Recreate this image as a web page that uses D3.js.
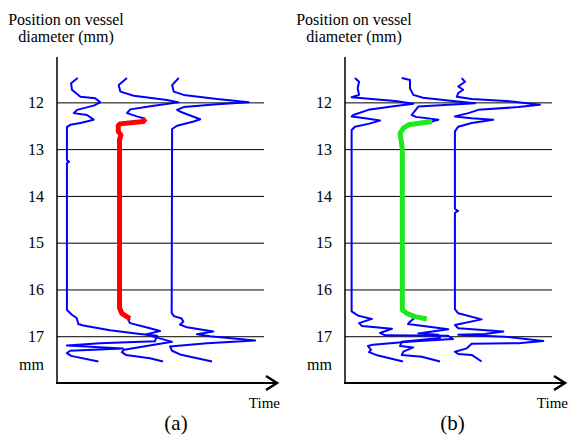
<!DOCTYPE html>
<html>
<head>
<meta charset="utf-8">
<script src="https://cdn.jsdelivr.net/npm/d3@7"></script>
<style>
  body { margin: 0; background: #fff; }
  text { font-family: "Liberation Serif", "Times New Roman", serif; fill: #000; }
</style>
</head>
<body>
<div id="chart"></div>
<script>
// tick labels / text
var yTicks = [12, 13, 14, 15, 16, 17];
var panelLabels = ["(a)", "(b)"];

// traces: [time, position mm]
var a1 = [[10.0,11.48],[6.8,11.59],[7.2,11.73],[11.3,11.88],[18.5,11.91],[20.9,12.00],[17.7,12.07],[9.7,12.16],[8.1,12.23],[14.5,12.27],[17.7,12.37],[11.3,12.44],[6.4,12.48],[4.8,12.53],[4.8,13.23],[5.8,13.27],[4.8,13.30],[4.8,16.44],[7.2,16.54],[9.5,16.61],[10.3,16.74],[12.7,16.77],[25.6,16.87],[40.1,16.95],[48.3,16.99],[47.3,17.11],[20.8,17.15],[4.8,17.20],[31.9,17.26],[6.3,17.31],[4.8,17.36],[6.8,17.42],[20.0,17.54]];
var a2Top = [[33.8,11.48],[29.8,11.63],[30.6,11.77],[37.1,11.86],[53.1,11.95],[58.8,12.00],[46.7,12.07],[35.4,12.15],[33.8,12.23],[38.6,12.30],[42.7,12.35]];
var a2Red = [[42.7,12.35],[41.7,12.41],[30.4,12.46],[29.6,12.50],[29.6,12.62],[30.9,12.70],[30.2,12.80],[30.2,16.39],[31.3,16.51],[33.7,16.58],[35.3,16.62]];
var a2Bottom = [[35.3,16.62],[34.4,16.65],[35.3,16.72],[44.9,16.83],[49.8,16.89],[43.0,16.96],[48.3,17.03],[55.6,17.12],[32.4,17.29],[31.3,17.34],[33.3,17.40],[44.9,17.47],[51.2,17.54]];
var a3 = [[58.8,11.48],[55.6,11.63],[56.4,11.77],[61.2,11.84],[77.3,11.93],[92.6,12.00],[77.3,12.04],[61.2,12.10],[58.0,12.16],[59.6,12.20],[69.2,12.36],[66.0,12.41],[58.0,12.50],[55.6,12.57],[55.4,16.50],[56.5,16.57],[60.2,16.62],[61.0,16.69],[59.4,16.75],[62.8,16.81],[75.5,16.90],[67.6,16.96],[73.9,17.00],[95.7,17.09],[72.5,17.15],[54.6,17.22],[55.6,17.31],[59.4,17.39],[74.9,17.54]];

var b1 = [[4.8,11.48],[6.8,11.56],[6.1,11.70],[6.8,11.84],[3.2,11.89],[12.9,11.93],[24.2,11.97],[33.0,12.03],[22.6,12.09],[11.3,12.16],[4.0,12.27],[3.2,12.30],[9.7,12.34],[16.9,12.39],[11.3,12.46],[4.8,12.52],[3.2,12.59],[3.2,16.47],[6.3,16.56],[13.0,16.63],[6.8,16.72],[8.2,16.78],[22.7,16.84],[16.9,16.93],[19.3,16.98],[49.8,16.99],[52.2,17.06],[30.4,17.12],[13.5,17.18],[11.1,17.21],[12.6,17.29],[11.6,17.34],[15.0,17.40],[28.0,17.54]];
var b2Top = [[27.4,11.48],[31.4,11.52],[31.4,11.70],[33.0,11.84],[37.7,11.90],[49.8,11.96],[62.8,12.02],[35.4,12.09],[32.2,12.27],[34.3,12.31],[45.1,12.37],[41.9,12.41]];
var b2Green = [[41.9,12.41],[30.6,12.48],[28.2,12.55],[26.6,12.66],[27.1,12.80],[27.7,13.02],[27.7,16.44],[29.8,16.51],[33.8,16.58],[39.5,16.63]];
var b2Bottom = [[33.8,16.60],[31.4,16.69],[30.4,16.74],[49.9,16.85],[35.4,16.94],[45.1,16.97],[45.9,17.04],[27.4,17.12],[26.6,17.21],[33.0,17.24],[28.2,17.33],[27.4,17.40],[37.1,17.44],[45.9,17.54]];
var b3 = [[56.4,11.48],[58.0,11.56],[54.7,11.66],[57.1,11.73],[54.7,11.80],[54.0,11.88],[61.2,11.93],[80.5,11.98],[94.2,12.05],[83.7,12.10],[64.4,12.16],[59.6,12.23],[53.1,12.30],[61.2,12.34],[71.6,12.37],[61.2,12.44],[54.7,12.52],[53.1,12.62],[53.1,14.28],[54.6,14.32],[53.1,14.36],[53.1,16.42],[54.7,16.51],[66.0,16.64],[53.1,16.76],[54.7,16.83],[76.5,16.90],[67.6,16.95],[54.7,16.97],[77.3,17.01],[95.8,17.10],[83.7,17.15],[61.2,17.16],[58.8,17.26],[53.1,17.33],[54.7,17.38],[61.2,17.40],[66.0,17.54]];

var panels = [
  { dx: 0,   label: panelLabels[0], labelX: 176, blue: [a1, a2Top, a2Bottom, a3], hi: a2Red,   hiColor: "#ff0000" },
  { dx: 288, label: panelLabels[1], labelX: 164.5, blue: [b1, b2Top, b2Bottom, b3], hi: b2Green, hiColor: "#1ee81e" }
];

var W = 571, H = 437;

var x = d3.scaleLinear().domain([0, 100]).range([57, 264]);
var y = d3.scaleLinear().domain([11.03, 18]).range([57, 383]);

var line = d3.line().x(d => x(d[0])).y(d => y(d[1]));

var svg = d3.select("#chart").append("svg")
    .attr("width", W)
    .attr("height", H);

panels.forEach(function (p) {
  var g = svg.append("g").attr("transform", "translate(" + p.dx + ",0)");

  // gridlines + tick labels
  var ax = g.append("g")
      .attr("transform", "translate(" + x(0) + ",0)")
      .call(d3.axisLeft(y)
        .tickValues(yTicks)
        .tickSize(-(x(100) - x(0)))
        .tickPadding(13)
        .tickFormat(d3.format("d")));
  ax.select(".domain").remove();
  ax.selectAll(".tick line").attr("stroke", "#000").attr("stroke-width", 1);
  ax.selectAll(".tick text")
      .attr("font-size", "16px")
      .attr("font-family", "Liberation Serif, Times New Roman, serif")
      .attr("fill", "#000");

  // y axis line
  g.append("line")
      .attr("x1", x(0)).attr("x2", x(0))
      .attr("y1", y.range()[0]).attr("y2", y.range()[1])
      .attr("stroke", "#000").attr("stroke-width", 1.5);

  // x axis arrow
  var xEnd = x(100) + 13, yb = y.range()[1];
  g.append("line")
      .attr("x1", x(0) - 1).attr("x2", xEnd)
      .attr("y1", yb).attr("y2", yb)
      .attr("stroke", "#000").attr("stroke-width", 2);
  g.append("path")
      .attr("d", "M" + (xEnd - 11) + "," + (yb - 7) + "L" + xEnd + "," + yb + "L" + (xEnd - 11) + "," + (yb + 7))
      .attr("fill", "none").attr("stroke", "#000").attr("stroke-width", 2.5);

  // traces
  p.blue.forEach(function (t) {
    g.append("path")
        .datum(t)
        .attr("d", line)
        .attr("fill", "none")
        .attr("stroke", "#0000ff")
        .attr("stroke-width", 2)
        .attr("stroke-linejoin", "round");
  });
  g.append("path")
      .datum(p.hi)
      .attr("d", line)
      .attr("fill", "none")
      .attr("stroke", p.hiColor)
      .attr("stroke-width", 5)
      .attr("stroke-linejoin", "round");

  // texts
  g.append("text").attr("x", 66).attr("y", 25).attr("text-anchor", "middle")
      .attr("font-size", "16px").text("Position on vessel");
  g.append("text").attr("x", 66).attr("y", 42).attr("text-anchor", "middle")
      .attr("font-size", "16px").text("diameter (mm)");
  g.append("text").attr("x", 44).attr("y", 370).attr("text-anchor", "end")
      .attr("font-size", "16px").text("mm");
  g.append("text").attr("x", 280).attr("y", 408).attr("text-anchor", "end")
      .attr("font-size", "15px").text("Time");
  g.append("text").attr("x", p.labelX).attr("y", 430).attr("text-anchor", "middle")
      .attr("font-size", "21px").text(p.label);
});
</script>
</body>
</html>
